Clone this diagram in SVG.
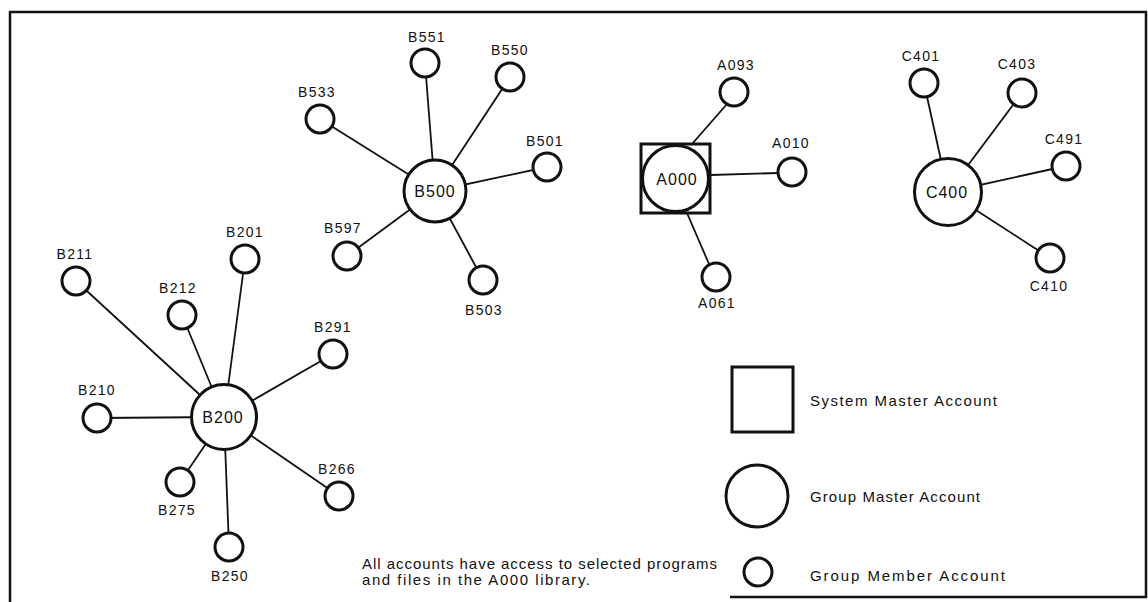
<svg xmlns="http://www.w3.org/2000/svg" width="1148" height="602" viewBox="0 0 1148 602">
<style>
.frame{fill:none;stroke:#111;stroke-width:2.5}
.c{stroke:#111;stroke-width:1.8;fill:none}
.m{fill:#fff;stroke:#111;stroke-width:3}
.h{fill:#fff;stroke:#111;stroke-width:3}
.sq{fill:#fff;stroke:#111;stroke-width:3}
.lb{font-family:"Liberation Sans",Arial,sans-serif;font-size:14px;letter-spacing:1.3px;fill:#111;text-anchor:middle}
.hl{font-family:"Liberation Sans",Arial,sans-serif;font-size:16px;letter-spacing:1px;fill:#111;text-anchor:middle}
.tx{font-family:"Liberation Sans",Arial,sans-serif;font-size:15px;fill:#111}
</style>
<rect width="1148" height="602" fill="#fff"/>
<g id="frame">
<polyline class="frame" points="10,602 10,12 1146,12 1146,597 730,597"/>
</g>
<g id="connectors">
<line class="c" x1="435" y1="191" x2="425" y2="63"/>
<line class="c" x1="435" y1="191" x2="510" y2="77"/>
<line class="c" x1="435" y1="191" x2="320" y2="119"/>
<line class="c" x1="435" y1="191" x2="547" y2="167"/>
<line class="c" x1="435" y1="191" x2="347" y2="256"/>
<line class="c" x1="435" y1="191" x2="483" y2="280"/>
<line class="c" x1="692" y1="144" x2="727" y2="104"/>
<line class="c" x1="711" y1="175" x2="778" y2="173"/>
<line class="c" x1="687" y1="213" x2="709" y2="264"/>
<line class="c" x1="948" y1="192" x2="924" y2="83"/>
<line class="c" x1="948" y1="192" x2="1022" y2="93"/>
<line class="c" x1="948" y1="192" x2="1066" y2="166"/>
<line class="c" x1="948" y1="192" x2="1050" y2="258"/>
<line class="c" x1="224" y1="417" x2="76" y2="281"/>
<line class="c" x1="224" y1="417" x2="245" y2="259"/>
<line class="c" x1="224" y1="417" x2="182" y2="315"/>
<line class="c" x1="224" y1="417" x2="333" y2="354"/>
<line class="c" x1="224" y1="417" x2="97" y2="418"/>
<line class="c" x1="224" y1="417" x2="180" y2="482"/>
<line class="c" x1="224" y1="417" x2="339" y2="496"/>
<line class="c" x1="224" y1="417" x2="229" y2="547"/>
</g>
<g id="B500"><circle class="h" cx="435" cy="191" r="31"/><text class="hl" x="435" y="197">B500</text></g>
<g id="B551"><circle class="m" cx="425" cy="63" r="14"/><text class="lb" x="427" y="42">B551</text></g>
<g id="B550"><circle class="m" cx="510" cy="77" r="14"/><text class="lb" x="510" y="55">B550</text></g>
<g id="B533"><circle class="m" cx="320" cy="119" r="14"/><text class="lb" x="317" y="97">B533</text></g>
<g id="B501"><circle class="m" cx="547" cy="167" r="14"/><text class="lb" x="545" y="146">B501</text></g>
<g id="B597"><circle class="m" cx="347" cy="256" r="14"/><text class="lb" x="343" y="233">B597</text></g>
<g id="B503"><circle class="m" cx="483" cy="280" r="14"/><text class="lb" x="484" y="315">B503</text></g>
<g id="A000"><rect class="sq" x="641" y="144" width="69" height="69"/><circle class="h" cx="675.5" cy="178.5" r="33"/><text class="hl" x="677" y="185">A000</text></g>
<g id="A093"><circle class="m" cx="734" cy="92" r="14"/><text class="lb" x="736" y="70">A093</text></g>
<g id="A010"><circle class="m" cx="792" cy="172" r="14"/><text class="lb" x="791" y="148">A010</text></g>
<g id="A061"><circle class="m" cx="716" cy="277" r="14"/><text class="lb" x="717" y="308">A061</text></g>
<g id="C400"><circle class="h" cx="948" cy="192" r="33.5"/><text class="hl" x="947" y="198">C400</text></g>
<g id="C401"><circle class="m" cx="924" cy="83" r="14"/><text class="lb" x="921" y="61">C401</text></g>
<g id="C403"><circle class="m" cx="1022" cy="93" r="14"/><text class="lb" x="1017" y="69">C403</text></g>
<g id="C491"><circle class="m" cx="1066" cy="166" r="14"/><text class="lb" x="1064" y="144">C491</text></g>
<g id="C410"><circle class="m" cx="1050" cy="258" r="14"/><text class="lb" x="1049" y="291">C410</text></g>
<g id="B200"><circle class="h" cx="224" cy="417" r="32.5"/><text class="hl" x="223" y="423">B200</text></g>
<g id="B211"><circle class="m" cx="76" cy="281" r="14"/><text class="lb" x="75" y="259">B211</text></g>
<g id="B201"><circle class="m" cx="245" cy="259" r="14"/><text class="lb" x="245" y="237">B201</text></g>
<g id="B212"><circle class="m" cx="182" cy="315" r="14"/><text class="lb" x="178" y="293">B212</text></g>
<g id="B291"><circle class="m" cx="333" cy="354" r="14"/><text class="lb" x="333" y="332">B291</text></g>
<g id="B210"><circle class="m" cx="97" cy="418" r="14"/><text class="lb" x="97" y="395">B210</text></g>
<g id="B275"><circle class="m" cx="180" cy="482" r="14"/><text class="lb" x="177" y="515">B275</text></g>
<g id="B266"><circle class="m" cx="339" cy="496" r="14"/><text class="lb" x="337" y="474">B266</text></g>
<g id="B250"><circle class="m" cx="229" cy="547" r="14"/><text class="lb" x="230" y="581">B250</text></g>
<g id="legend">
<rect class="sq" x="732" y="367" width="61" height="65"/>
<text class="tx" x="810" y="406" textLength="187" lengthAdjust="spacing">System Master Account</text>
<circle class="h" cx="757" cy="496" r="31"/>
<text class="tx" x="810" y="502" textLength="170" lengthAdjust="spacing">Group Master Account</text>
<circle class="m" cx="758" cy="572" r="14"/>
<text class="tx" x="810" y="581" textLength="195" lengthAdjust="spacing">Group Member Account</text>
</g>
<g id="note">
<text class="tx" x="362" y="569" textLength="355" lengthAdjust="spacing">All accounts have access to selected programs</text>
<text class="tx" x="362" y="585" textLength="228" lengthAdjust="spacing">and files in the A000 library.</text>
</g>
</svg>
